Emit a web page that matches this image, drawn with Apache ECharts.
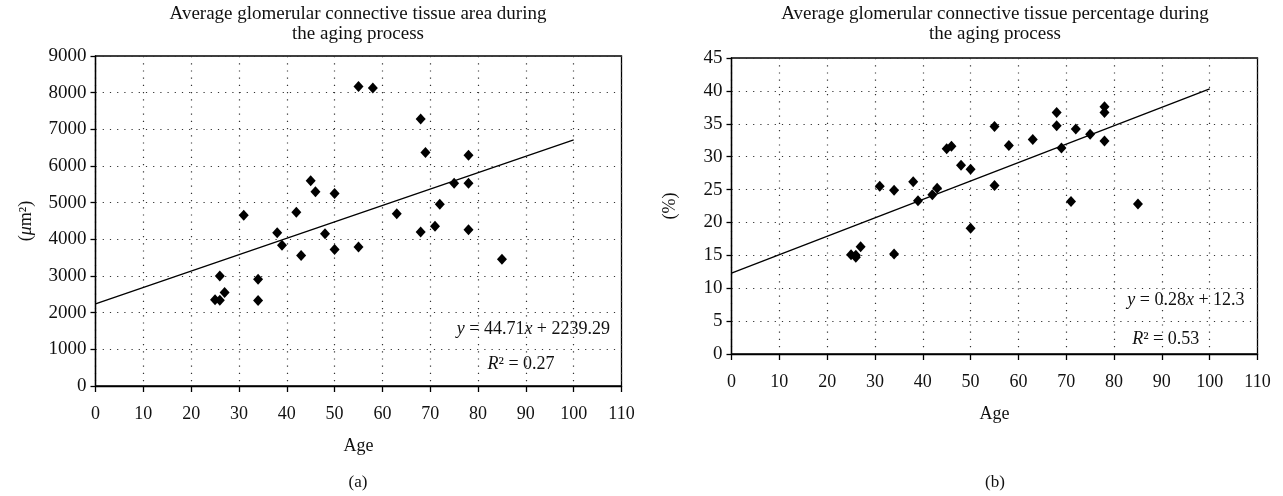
<!DOCTYPE html>
<html>
<head>
<meta charset="utf-8">
<script src="https://cdn.jsdelivr.net/npm/echarts@6/dist/echarts.min.js"></script>
<style>
  html, body { margin: 0; padding: 0; background: #fff; }
  #chart { width: 1283px; height: 496px; }
</style>
</head>
<body>
<div id="chart"></div>
<script>
// (a) area vs age
var areaAge = [25, 26, 26, 27, 31, 34, 34, 38, 39, 42, 43, 45, 46, 48, 50, 50, 55, 55, 58, 63, 68, 68, 69, 71, 72, 75, 78, 78, 78, 85];
var areaVal = [2350, 2340, 3000, 2550, 4660, 2910, 2330, 4180, 3840, 4740, 3560, 5600, 5300, 4150, 5250, 3720, 8170, 3790, 8130, 4700, 7280, 4200, 6370, 4360, 4960, 5530, 6290, 5530, 4260, 3460];
var areaTrendX = [0, 100];
var areaTrendY = [2239.29, 6710.29];

// (b) percentage vs age
var pctAge = [25, 26, 26, 27, 31, 34, 34, 38, 39, 42, 43, 45, 46, 48, 50, 50, 55, 55, 58, 63, 68, 68, 69, 71, 72, 75, 78, 78, 78, 85];
var pctVal = [15.1, 15.0, 14.7, 16.3, 25.5, 24.9, 15.2, 26.2, 23.3, 24.2, 25.2, 31.2, 31.6, 28.7, 28.1, 19.1, 34.6, 25.6, 31.7, 32.6, 36.7, 34.7, 31.3, 23.2, 34.2, 33.4, 37.6, 36.7, 32.4, 22.8];
var pctTrendX = [0, 100];
var pctTrendY = [12.3, 40.3];

var FONT = '"Liberation Serif", "DejaVu Serif", serif';

function pairs(xs, ys) {
    var out = [];
    for (var i = 0; i < xs.length; i++) out.push([xs[i], ys[i]]);
    return out;
}

function plain(v) { return String(v); }

function xAxisCfg(gridIndex) {
    return {
        gridIndex: gridIndex,
        type: 'value',
        min: 0, max: 110, interval: 10,
        name: 'Age',
        nameLocation: 'middle',
        nameGap: 51,
        nameTextStyle: { fontFamily: FONT, fontSize: 18, color: '#111' },
        axisLine: { show: true, onZero: false, lineStyle: { color: '#000', width: 1.3 } },
        axisTick: { show: true, length: 6, lineStyle: { color: '#000', width: 1.3 } },
        axisLabel: { fontFamily: FONT, fontSize: 18, color: '#111', margin: 19, formatter: plain },
        splitLine: { show: true, lineStyle: { color: '#333', width: 1.2, type: [1.2, 6] } }
    };
}

function yAxisCfg(gridIndex, max, interval, name, gap) {
    return {
        gridIndex: gridIndex,
        type: 'value',
        min: 0, max: max, interval: interval,
        name: name,
        nameLocation: 'middle',
        nameGap: gap,
        nameRotate: 90,
        nameTextStyle: { fontFamily: FONT, fontSize: 18, color: '#111', rich: { i: { fontFamily: FONT, fontSize: 18, fontStyle: 'italic', color: '#111' } } },
        axisLine: { show: true, lineStyle: { color: '#000', width: 1.3 } },
        axisTick: { show: true, length: 5, lineStyle: { color: '#000', width: 1.3 } },
        axisLabel: { fontFamily: FONT, fontSize: 19, color: '#111', margin: 9, formatter: plain },
        splitLine: { show: true, lineStyle: { color: '#333', width: 1.2, type: [1.2, 6] } }
    };
}

var labelRich = {
    n: { fontFamily: FONT, fontSize: 18, color: '#111' },
    i: { fontFamily: FONT, fontSize: 18, color: '#111', fontStyle: 'italic' }
};

function notes(eqCoord, eqText, rCoord, rText) {
    return {
        symbol: 'circle',
        symbolSize: 0,
        silent: true,
        data: [
            { coord: eqCoord, label: { show: true, position: 'left', distance: 0, formatter: eqText, rich: labelRich } },
            { coord: rCoord, label: { show: true, position: 'inside', formatter: rText, rich: labelRich } }
        ]
    };
}

var chart = echarts.init(document.getElementById('chart'));
chart.setOption({
    animation: false,
    graphic: [
        { type: 'text', x: 358, y: 4, style: { text: 'Average glomerular connective tissue area during\nthe aging process', font: '19px ' + FONT, fill: '#111', align: 'center', verticalAlign: 'top', lineHeight: 20 } },
        { type: 'text', x: 995, y: 4, style: { text: 'Average glomerular connective tissue percentage during\nthe aging process', font: '19px ' + FONT, fill: '#111', align: 'center', verticalAlign: 'top', lineHeight: 20 } },
        { type: 'text', x: 358, y: 483, style: { text: '(a)', font: '17px ' + FONT, fill: '#111', align: 'center', verticalAlign: 'middle' } },
        { type: 'text', x: 995, y: 483, style: { text: '(b)', font: '17px ' + FONT, fill: '#111', align: 'center', verticalAlign: 'middle' } }
    ],
    grid: [
        { left: 95.5, top: 56, width: 526, height: 330, show: true, borderColor: '#000', borderWidth: 1.3, backgroundColor: 'transparent' },
        { left: 731.5, top: 58, width: 526, height: 296, show: true, borderColor: '#000', borderWidth: 1.3, backgroundColor: 'transparent' }
    ],
    xAxis: [xAxisCfg(0), xAxisCfg(1)],
    yAxis: [
        yAxisCfg(0, 9000, 1000, '({i|μ}m²)', 60),
        yAxisCfg(1, 45, 5, '(%)', 52)
    ],
    series: [
        {
            type: 'line', xAxisIndex: 0, yAxisIndex: 0,
            data: pairs(areaTrendX, areaTrendY),
            symbol: 'none', lineStyle: { color: '#000', width: 1.3 },
            markPoint: notes([107.6, 1550], '{i|y}{n| = 44.71}{i|x}{n| + 2239.29}', [89, 600], '{i|R}{n|² = 0.27}')
        },
        {
            type: 'scatter', xAxisIndex: 0, yAxisIndex: 0,
            data: pairs(areaAge, areaVal),
            symbol: 'diamond', symbolSize: [10, 11], itemStyle: { color: '#000', opacity: 1 }
        },
        {
            type: 'line', xAxisIndex: 1, yAxisIndex: 1,
            data: pairs(pctTrendX, pctTrendY),
            symbol: 'none', lineStyle: { color: '#000', width: 1.3 },
            markPoint: notes([107.3, 8.2], '{i|y}{n| = 0.28}{i|x}{n| + 12.3}', [90.8, 2.3], '{i|R}{n|² = 0.53}')
        },
        {
            type: 'scatter', xAxisIndex: 1, yAxisIndex: 1,
            data: pairs(pctAge, pctVal),
            symbol: 'diamond', symbolSize: [10, 11], itemStyle: { color: '#000', opacity: 1 }
        }
    ]
});
</script>
</body>
</html>
